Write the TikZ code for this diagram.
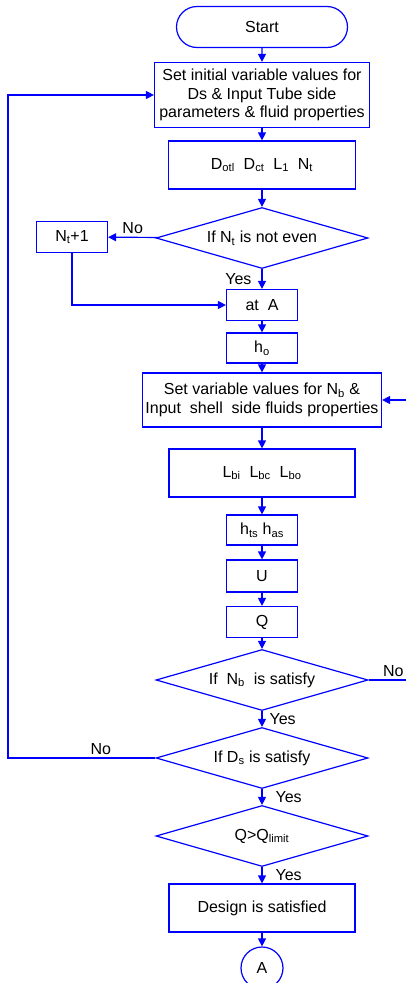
\documentclass[tikz,border=0pt]{standalone}
\usepackage{fontspec}
\setmainfont{Liberation Sans}
\usetikzlibrary{shapes.geometric,shapes.misc,arrows.meta}
\begin{document}
\begin{tikzpicture}[x=1pt, y=-1pt,
    every node/.style={font=\fontsize{16}{18.5}\selectfont},
    box/.style={draw=blue, line width=1.2pt, rectangle, inner sep=0pt, align=center},
    term/.style={draw=blue, line width=1.2pt, rounded rectangle, inner sep=0pt,
      minimum width=171pt, minimum height=41pt},
    decision/.style={draw=blue, line width=1.2pt, diamond, aspect=3.5, inner sep=0pt,
      minimum width=212pt, minimum height=61pt},
    arr/.style={draw=blue, line width=1.2pt, -{Triangle[length=8pt,width=8pt]}},
    lbl/.style={inner sep=1pt}
  ]
  \useasboundingbox (0,0) rectangle (406,983);
  \clip (0,0) rectangle (406,983);

  \node[term] (start) at (262,27) {Start};
  \node[box, minimum width=215pt, minimum height=65pt] (init) at (262,95)
    {Set initial variable values for\\Ds \& Input Tube side\\parameters \& fluid properties};
  \node[box, minimum width=187pt, minimum height=48pt] (dims) at (262,165)
    {D\textsubscript{otl}\ \ D\textsubscript{ct}\ \ L\textsubscript{1}\ \ N\textsubscript{t}};
  \node[decision] (even) at (262,238) {If N\textsubscript{t} is not even};
  \node[box, minimum width=71pt, minimum height=31pt] (ntp) at (72,237) {N\textsubscript{t}+1};
  \node[box, minimum width=71pt, minimum height=31pt] (atA) at (262,305) {at\ \ A};
  \node[box, minimum width=71pt, minimum height=30pt] (ho) at (262,348) {h\textsubscript{o}};
  \node[box, minimum width=239pt, minimum height=54pt] (setnb) at (262,400)
    {Set variable values for N\textsubscript{b} \&\\Input\ \ shell\ \ side fluids properties};
  \node[box, minimum width=186pt, minimum height=48pt] (baffle) at (262,473)
    {L\textsubscript{bi}\ \ L\textsubscript{bc}\ \ L\textsubscript{bo}};
  \node[box, minimum width=71pt, minimum height=30pt] (hcoef) at (262,530)
    {h\textsubscript{ts} h\textsubscript{as}};
  \node[box, minimum width=71pt, minimum height=32pt] (U) at (262,576) {U};
  \node[box, minimum width=71pt, minimum height=31pt] (Q) at (262,622) {Q};
  \node[decision] (nbok) at (262,680) {If\ \ N\textsubscript{b}\ \ is satisfy};
  \node[decision] (dsok) at (262,758) {If D\textsubscript{s} is satisfy};
  \node[decision] (qlim) at (262,836) {Q>Q\textsubscript{limit}};
  \node[box, minimum width=186pt, minimum height=48pt] (design) at (262,908) {Design is satisfied};
  \node[draw=blue, line width=1.2pt, circle, minimum size=42pt, inner sep=0pt] (conn) at (262,968) {A};

  \coordinate (rloop) at (418,680);
  \coordinate (lloop) at (8,758);

  \foreach \a/\b in {start/init, init/dims, dims/even, atA/ho, ho/setnb, setnb/baffle,
      baffle/hcoef, hcoef/U, U/Q, Q/nbok, design/conn} {
    \draw[arr] (\a) -- (\b);
  }

  \draw[arr] (even) -- node[lbl, above=2pt] (no1) {No} (ntp);
  \draw[arr] (ntp) |- (atA);
  \draw[arr] (even) -- node[lbl, left=9pt] (yes1) {Yes} (atA);
  \draw[arr] (nbok) -- node[lbl, above=2pt] (no2) {No} (rloop) |- (setnb);
  \draw[arr] (nbok) -- node[lbl, right=6pt] (yes2) {Yes} (dsok);
  \draw[arr] (dsok) -- node[lbl, above=2pt, pos=0.37] (no3) {No} (lloop) |- (init);
  \draw[arr] (dsok) -- node[lbl, right=12pt] (yes3) {Yes} (qlim);
  \draw[arr] (qlim) -- node[lbl, right=12pt] (yes4) {Yes} (design);

\end{tikzpicture}
\end{document}
